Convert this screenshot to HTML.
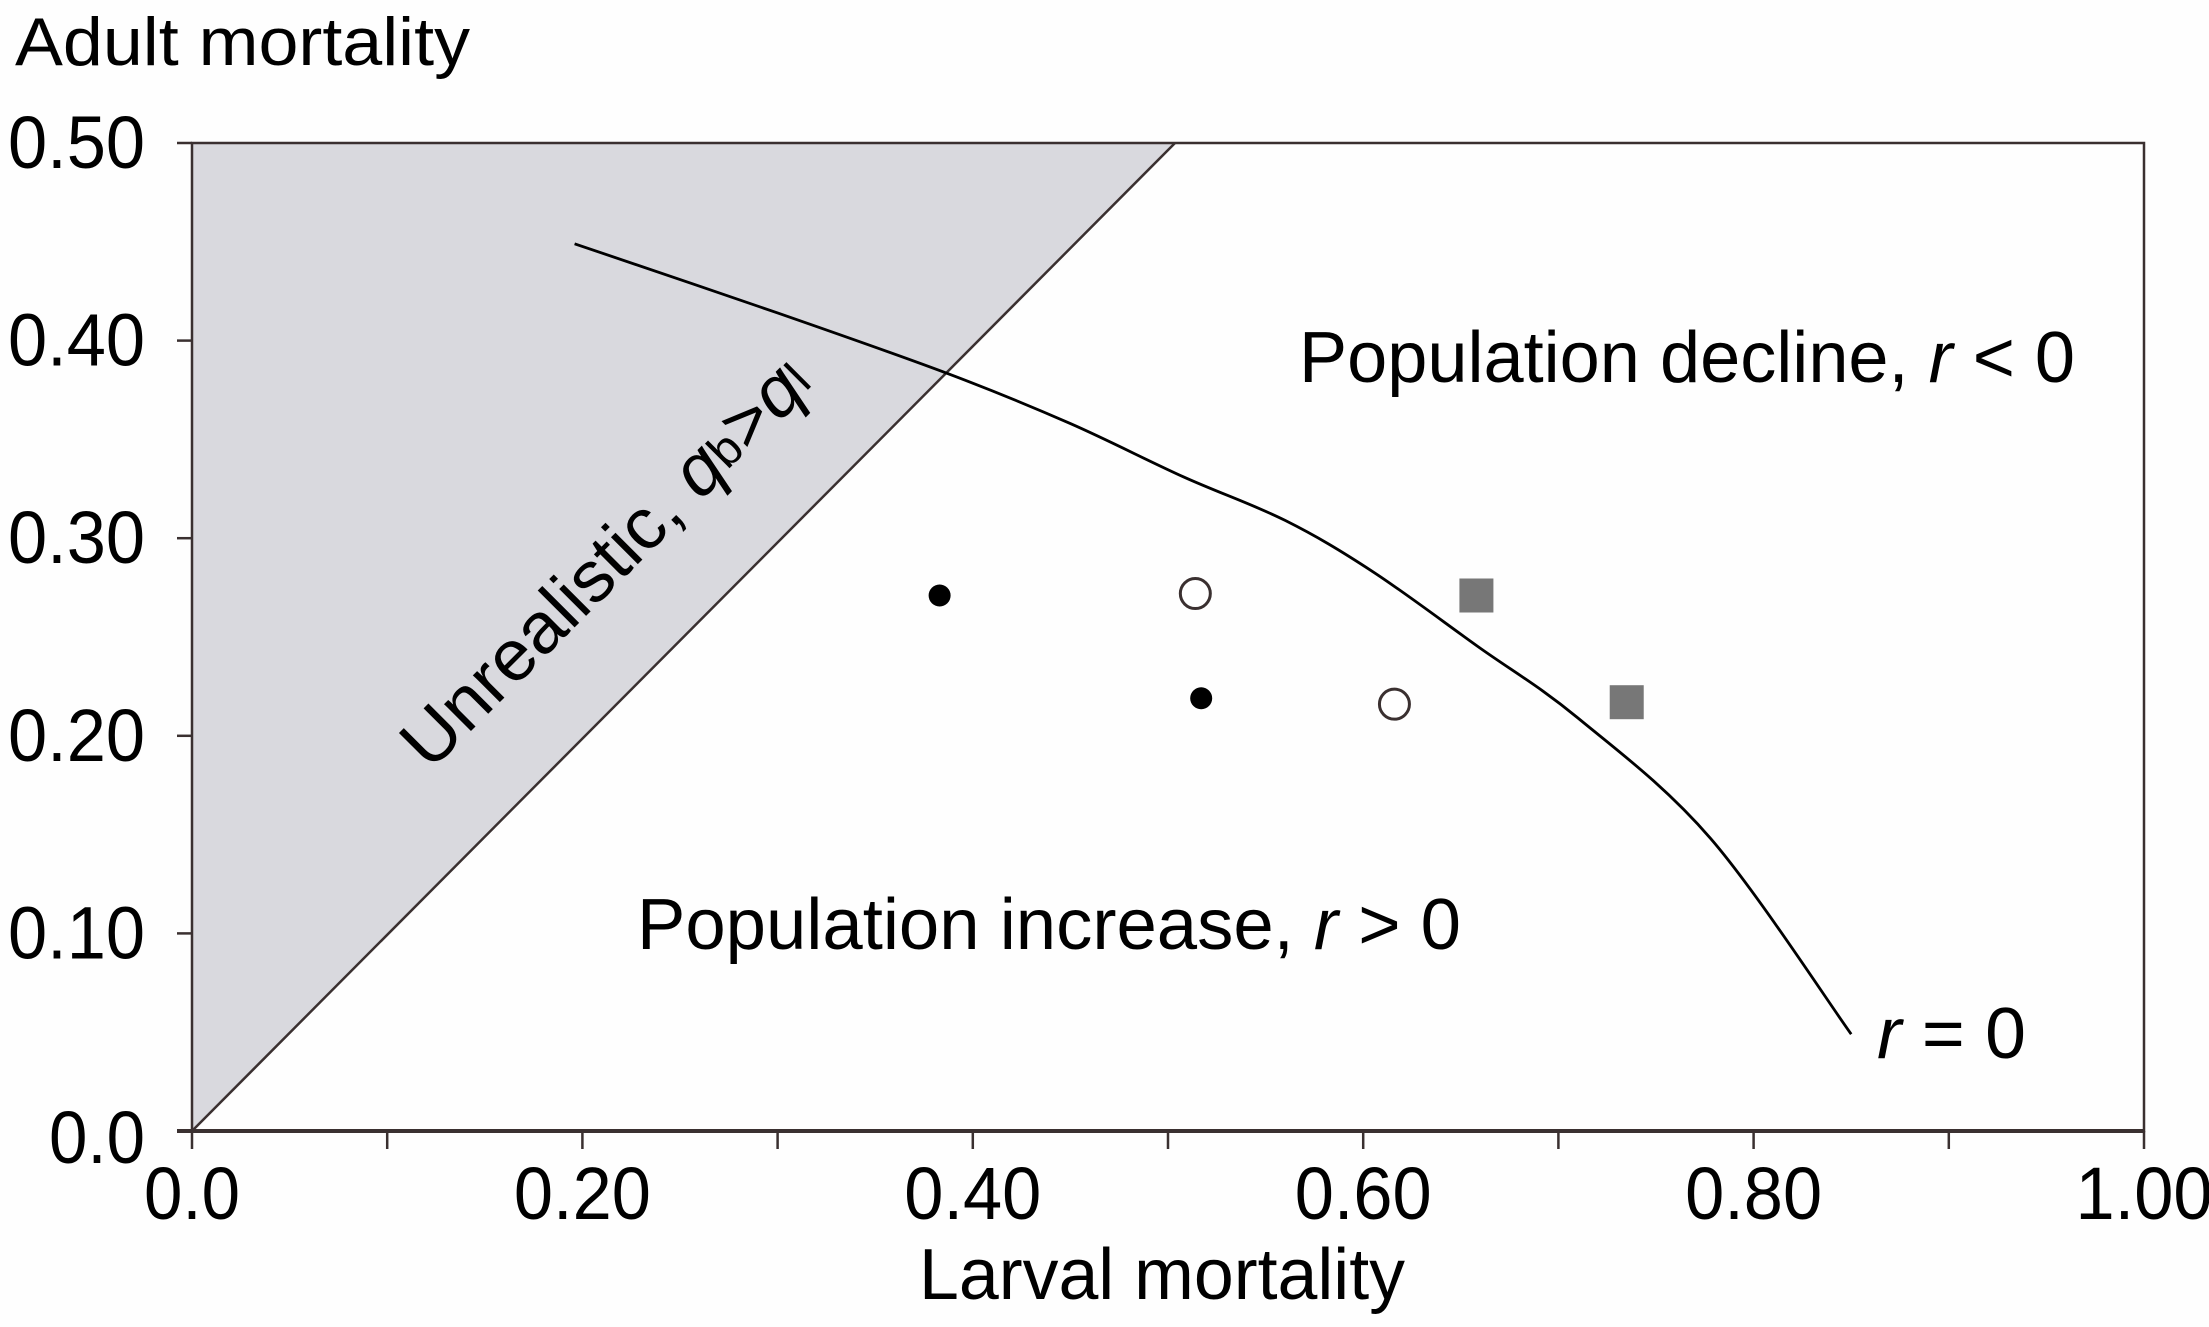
<!DOCTYPE html>
<html><head><meta charset="utf-8">
<style>
html,body{margin:0;padding:0;background:#fefefe;}
svg{display:block;}
text{font-family:"Liberation Sans",Arial,sans-serif;fill:#000;}
</style></head>
<body>
<svg id="chart" width="2209" height="1327" viewBox="0 0 2209 1327" xmlns="http://www.w3.org/2000/svg">
<rect x="0" y="0" width="2209" height="1327" fill="#fefefe"/>
<polygon id="shade" fill="#d9d9de"/>
<g id="marks"></g>
<g id="axes"></g>
<text x="15" y="65" font-size="68" textLength="455" lengthAdjust="spacingAndGlyphs">Adult mortality</text>
<text x="1162" y="1299" font-size="72" text-anchor="middle" textLength="486" lengthAdjust="spacingAndGlyphs">Larval mortality</text>
<text x="1299" y="382" font-size="72" textLength="776" lengthAdjust="spacingAndGlyphs">Population decline, <tspan font-style="italic">r</tspan> &lt; 0</text>
<text x="637" y="949" font-size="72" textLength="824" lengthAdjust="spacingAndGlyphs">Population increase, <tspan font-style="italic">r</tspan> &gt; 0</text>
<text x="1877" y="1058" font-size="72" textLength="149" lengthAdjust="spacingAndGlyphs"><tspan font-style="italic">r</tspan> = 0</text>
<text transform="translate(430,772) rotate(-45)" font-size="72" textLength="545" lengthAdjust="spacingAndGlyphs">Unrealistic, <tspan font-style="italic">q</tspan><tspan font-size="48" dy="-3">b</tspan><tspan dy="3">&gt;</tspan><tspan font-style="italic">q</tspan><tspan font-size="48" dy="-3">l</tspan></text>
</svg>
<script>
const xTicks = [0, 0.2, 0.4, 0.6, 0.8, 1.0];
const xTickLabels = ["0.0", "0.20", "0.40", "0.60", "0.80", "1.00"];
const xMinorTicks = [0.1, 0.3, 0.5, 0.7, 0.9];
const yTicks = [0, 0.1, 0.2, 0.3, 0.4, 0.5];
const yTickLabels = ["0.0", "0.10", "0.20", "0.30", "0.40", "0.50"];
const curveX = [0.196, 0.30, 0.388, 0.45, 0.508, 0.56, 0.605, 0.659, 0.71, 0.778, 0.850];
const curveY = [0.449, 0.414, 0.383, 0.358, 0.331, 0.309, 0.283, 0.245, 0.209, 0.148, 0.049];
const filledX = [0.383, 0.517];
const filledY = [0.271, 0.219];
const openX = [0.514, 0.616];
const openY = [0.272, 0.216];
const squareX = [0.658, 0.735];
const squareY = [0.271, 0.217];
const diagX = [0, 0.5036];
const diagY = [0, 0.5];

const X0 = 192, X1 = 2144, Y0 = 1131, Y1 = 143;
const sx = v => X0 + v * (X1 - X0);
const sy = v => Y0 - v / 0.5 * (Y0 - Y1);
const NS = "http://www.w3.org/2000/svg";
function mk(tag, attrs, parent) {
  const e = document.createElementNS(NS, tag);
  for (const k in attrs) e.setAttribute(k, attrs[k]);
  parent.appendChild(e);
  return e;
}
const marks = document.getElementById('marks');
const axes = document.getElementById('axes');

document.getElementById('shade').setAttribute('points',
  `${sx(diagX[0])},${sy(diagY[0])} ${sx(diagX[1])},${sy(diagY[1])} ${sx(0)},${sy(0.5)}`);

const diag = mk('line', {x1: sx(diagX[0]), y1: sy(diagY[0]), x2: sx(diagX[1]), y2: sy(diagY[1]), stroke: '#3a3030', 'stroke-width': 2.5}, marks);



const P = curveX.map((x, i) => [sx(x), sy(curveY[i])]);
let d = 'M' + P[0][0] + ',' + P[0][1];
for (let i = 0; i < P.length - 1; i++) {
  const p0 = P[Math.max(i - 1, 0)], p1 = P[i], p2 = P[i + 1], p3 = P[Math.min(i + 2, P.length - 1)];
  const c1 = [p1[0] + (p2[0] - p0[0]) / 6, p1[1] + (p2[1] - p0[1]) / 6];
  const c2 = [p2[0] - (p3[0] - p1[0]) / 6, p2[1] - (p3[1] - p1[1]) / 6];
  d += ` C${c1[0]},${c1[1]} ${c2[0]},${c2[1]} ${p2[0]},${p2[1]}`;
}
const curve = mk('path', {d: d, fill: 'none', stroke: '#000', 'stroke-width': 2.8, 'stroke-linejoin': 'round'}, marks);



filledX.forEach((x, i) => {
  const c = mk('circle', {cx: sx(x), cy: sy(filledY[i]), r: 11, fill: '#000'}, marks);
  
  
});
openX.forEach((x, i) => {
  const c = mk('circle', {cx: sx(x), cy: sy(openY[i]), r: 15, fill: '#fff', stroke: '#3a3030', 'stroke-width': 3}, marks);
  
  
});
squareX.forEach((x, i) => {
  const r = mk('rect', {x: sx(x) - 17, y: sy(squareY[i]) - 17, width: 34, height: 34, fill: '#777'}, marks);
  
  
});

const frame = mk('rect', {x: X0, y: Y1, width: X1 - X0, height: Y0 - Y1, fill: 'none', stroke: '#3a3030', 'stroke-width': 2.5}, axes);


const xaxis = mk('line', {x1: X0 - 15, y1: Y0, x2: X1, y2: Y0, stroke: '#3a3030', 'stroke-width': 4}, axes);



xTicks.forEach((v, i) => {
  const t = mk('line', {x1: sx(v), y1: Y0, x2: sx(v), y2: Y0 + 18, stroke: '#3a3030', 'stroke-width': 2.5}, axes);
  
  
  const lb = mk('text', {x: sx(v), y: 1219, 'font-size': 74, 'text-anchor': 'middle', textLength: xTickLabels[i].length > 3 ? 137 : 96, lengthAdjust: 'spacingAndGlyphs'}, axes);
  lb.textContent = xTickLabels[i];
  
  
});
xMinorTicks.forEach(v => {
  const t = mk('line', {x1: sx(v), y1: Y0, x2: sx(v), y2: Y0 + 18, stroke: '#3a3030', 'stroke-width': 2.5}, axes);
  
  
});
yTicks.forEach((v, i) => {
  const t = mk('line', {x1: X0 - 15, y1: sy(v), x2: X0, y2: sy(v), stroke: '#3a3030', 'stroke-width': 2.5}, axes);
  
  
  const short = yTickLabels[i].length <= 3;
  const lb = mk('text', {x: 145, y: sy(v) + (short ? 32 : 25), 'font-size': 74, 'text-anchor': 'end', textLength: short ? 96 : 137, lengthAdjust: 'spacingAndGlyphs'}, axes);
  lb.textContent = yTickLabels[i];
  
  
});
</script>
</body></html>
